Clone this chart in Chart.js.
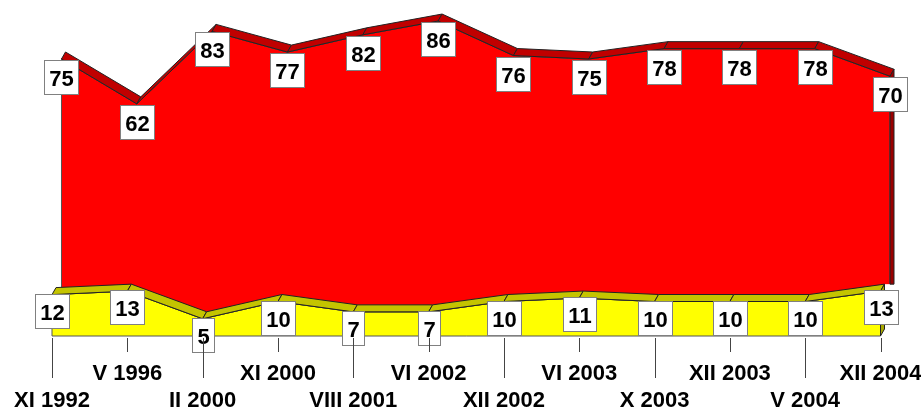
<!DOCTYPE html>
<html>
<head>
<meta charset="utf-8">
<script src="https://cdn.jsdelivr.net/npm/chart.js@4/dist/chart.umd.min.js"></script>
<style>
html,body{margin:0;padding:0;background:#fff;}
</style>
</head>
<body>
<canvas id="poll_canvas" width="921" height="410"></canvas>
<script>
var categories = ['XI 1992','V 1996','II 2000','XI 2000','VIII 2001','VI 2002','XII 2002','VI 2003','X 2003','XII 2003','V 2004','XII 2004'];
var redValues = [75,62,83,77,82,86,76,75,78,78,78,70];
var yellowValues = [12,13,5,10,7,7,10,11,10,10,10,13];

var FONT = "'Liberation Sans', Arial, sans-serif";
var depth = {dx: 4, dy: -7};
var shift = 0.126; // red series sits a bit behind / right of the yellow one

function toPoints(values){
    var pts = [];
    for (var i = 0; i < values.length; i++) {
        pts.push({x: i, y: values[i]});
    }
    return pts;
}

// 3d top band + right side for each area
var threeD = {
    id: 'threeD',
    afterDatasetDraw: function(chart, args){
        var ctx = chart.ctx;
        var ds = chart.data.datasets[args.index];
        var pts = args.meta.data;
        var base = chart.scales[args.meta.yAxisID].getPixelForValue(0);
        var l = pts[pts.length-1];
        var bottom = base;
        var backBottom = base + depth.dy;
        var i;
        ctx.save();
        if (ds.behind !== undefined) {
            // the back series stops where the front series' band starts
            var fp = chart.getDatasetMeta(ds.behind).data;
            var fl = fp[fp.length-1];
            bottom = fl.y + depth.dy;
            backBottom = bottom;
            ctx.fillStyle = '#fff';
            ctx.fillRect(fl.x + depth.dx, bottom, l.x - fl.x, base - bottom + 2);
        }
        ctx.lineWidth = 1;
        ctx.lineJoin = 'round';
        ctx.strokeStyle = '#555';
        ctx.beginPath();
        ctx.moveTo(pts[0].x, base);
        for (i = 0; i < pts.length; i++) ctx.lineTo(pts[i].x, pts[i].y);
        ctx.lineTo(l.x, bottom);
        if (ds.behind === undefined) ctx.closePath();
        ctx.stroke();
        ctx.strokeStyle = '#222';
        for (i = 0; i < pts.length - 1; i++) {
            var a = pts[i], b = pts[i+1];
            ctx.beginPath();
            ctx.moveTo(a.x, a.y);
            ctx.lineTo(b.x, b.y);
            ctx.lineTo(b.x + depth.dx, b.y + depth.dy);
            ctx.lineTo(a.x + depth.dx, a.y + depth.dy);
            ctx.closePath();
            ctx.fillStyle = ds.bandColor;
            ctx.fill();
            ctx.stroke();
        }
        ctx.beginPath();
        ctx.moveTo(l.x, l.y);
        ctx.lineTo(l.x + depth.dx, l.y + depth.dy);
        ctx.lineTo(l.x + depth.dx, backBottom);
        ctx.lineTo(l.x, bottom);
        ctx.closePath();
        ctx.fillStyle = ds.sideColor;
        ctx.fill();
        ctx.stroke();
        ctx.restore();
    }
};

// white value boxes and the two-length tick marks
var valueBoxes = {
    id: 'valueBoxes',
    afterDatasetsDraw: function(chart){
        var ctx = chart.ctx;
        ctx.save();
        ctx.font = 'bold 22px ' + FONT;
        ctx.textAlign = 'center';
        ctx.textBaseline = 'alphabetic';
        chart.data.datasets.forEach(function(ds, di){
            var meta = chart.getDatasetMeta(di);
            meta.data.forEach(function(p, i){
                var txt = String(ds.data[i].y);
                var w = Math.round(ctx.measureText(txt).width) + 10;
                var h = 34;
                var left = Math.round(p.x - w / 2) + 0.5;
                var top = Math.round(p.y + ds.boxShift) + 0.5;
                ctx.fillStyle = '#fff';
                ctx.fillRect(left, top, w, h);
                ctx.strokeStyle = '#808080';
                ctx.lineWidth = 1;
                ctx.strokeRect(left, top, w, h);
                ctx.fillStyle = '#000';
                ctx.fillText(txt, left + w / 2, top + h / 2 + 8);
            });
        });
        ctx.restore();
    },
    afterDraw: function(chart){
        var ctx = chart.ctx;
        var xs = chart.scales.x;
        ctx.save();
        ctx.strokeStyle = '#444';
        ctx.lineWidth = 1;
        for (var i = 0; i < categories.length; i++) {
            var px = Math.round(xs.getPixelForValue(i)) + 0.5;
            var len = (i % 2 === 0) ? 40 : 14;
            ctx.beginPath();
            ctx.moveTo(px, xs.top + 2);
            ctx.lineTo(px, xs.top + 2 + len);
            ctx.stroke();
        }
        ctx.restore();
    }
};

var chartdata = {
    datasets: [
        {
            label: 'yellow',
            data: toPoints(yellowValues),
            xAxisID: 'x',
            yAxisID: 'y',
            backgroundColor: '#FFFF00',
            borderColor: '#222',
            borderWidth: 1,
            fill: 'origin',
            pointRadius: 0,
            tension: 0,
            clip: false,
            order: 1,
            bandColor: '#C4C400',
            sideColor: '#A8A800',
            boxShift: -1
        },
        {
            label: 'red',
            data: toPoints(redValues),
            xAxisID: 'x2',
            yAxisID: 'y2',
            backgroundColor: '#FF0000',
            borderColor: '#222',
            borderWidth: 1,
            fill: 'origin',
            pointRadius: 0,
            tension: 0,
            clip: false,
            order: 2,
            bandColor: '#C00000',
            sideColor: '#990000',
            behind: 0,
            boxShift: 1
        }
    ]
};

var options = {
    responsive: false,
    animation: false,
    layout: {padding: 0},
    plugins: {legend: {display: false}, tooltip: {enabled: false}},
    scales: {
        x: {
            type: 'linear',
            min: 0,
            max: 11 + shift,
            grid: {display: false, drawTicks: false},
            border: {display: false},
            afterFit: function(scale){
                scale.height = 74;
                scale.paddingLeft = 52;
                scale.paddingRight = 31;
            },
            ticks: {
                stepSize: 1,
                autoSkip: false,
                includeBounds: false,
                maxRotation: 0,
                minRotation: 0,
                padding: 24,
                color: '#000',
                font: {family: FONT, size: 22, weight: 'bold', lineHeight: '27px'},
                callback: function(v){
                    var i = Math.round(v);
                    if (Math.abs(i - v) > 0.001 || !categories[i]) return '';
                    return (i % 2 === 0) ? ['', categories[i]] : categories[i];
                }
            }
        },
        x2: {
            type: 'linear',
            display: false,
            min: -shift,
            max: 11
        },
        y: {display: false, min: 0, max: 97.4},
        y2: {display: false, min: -5.3, max: 92.1}
    }
};

var ctx = document.getElementById('poll_canvas');
var chart = new Chart(ctx, {
    type: 'line',
    data: chartdata,
    options: options,
    plugins: [threeD, valueBoxes]
});
</script>
</body>
</html>
